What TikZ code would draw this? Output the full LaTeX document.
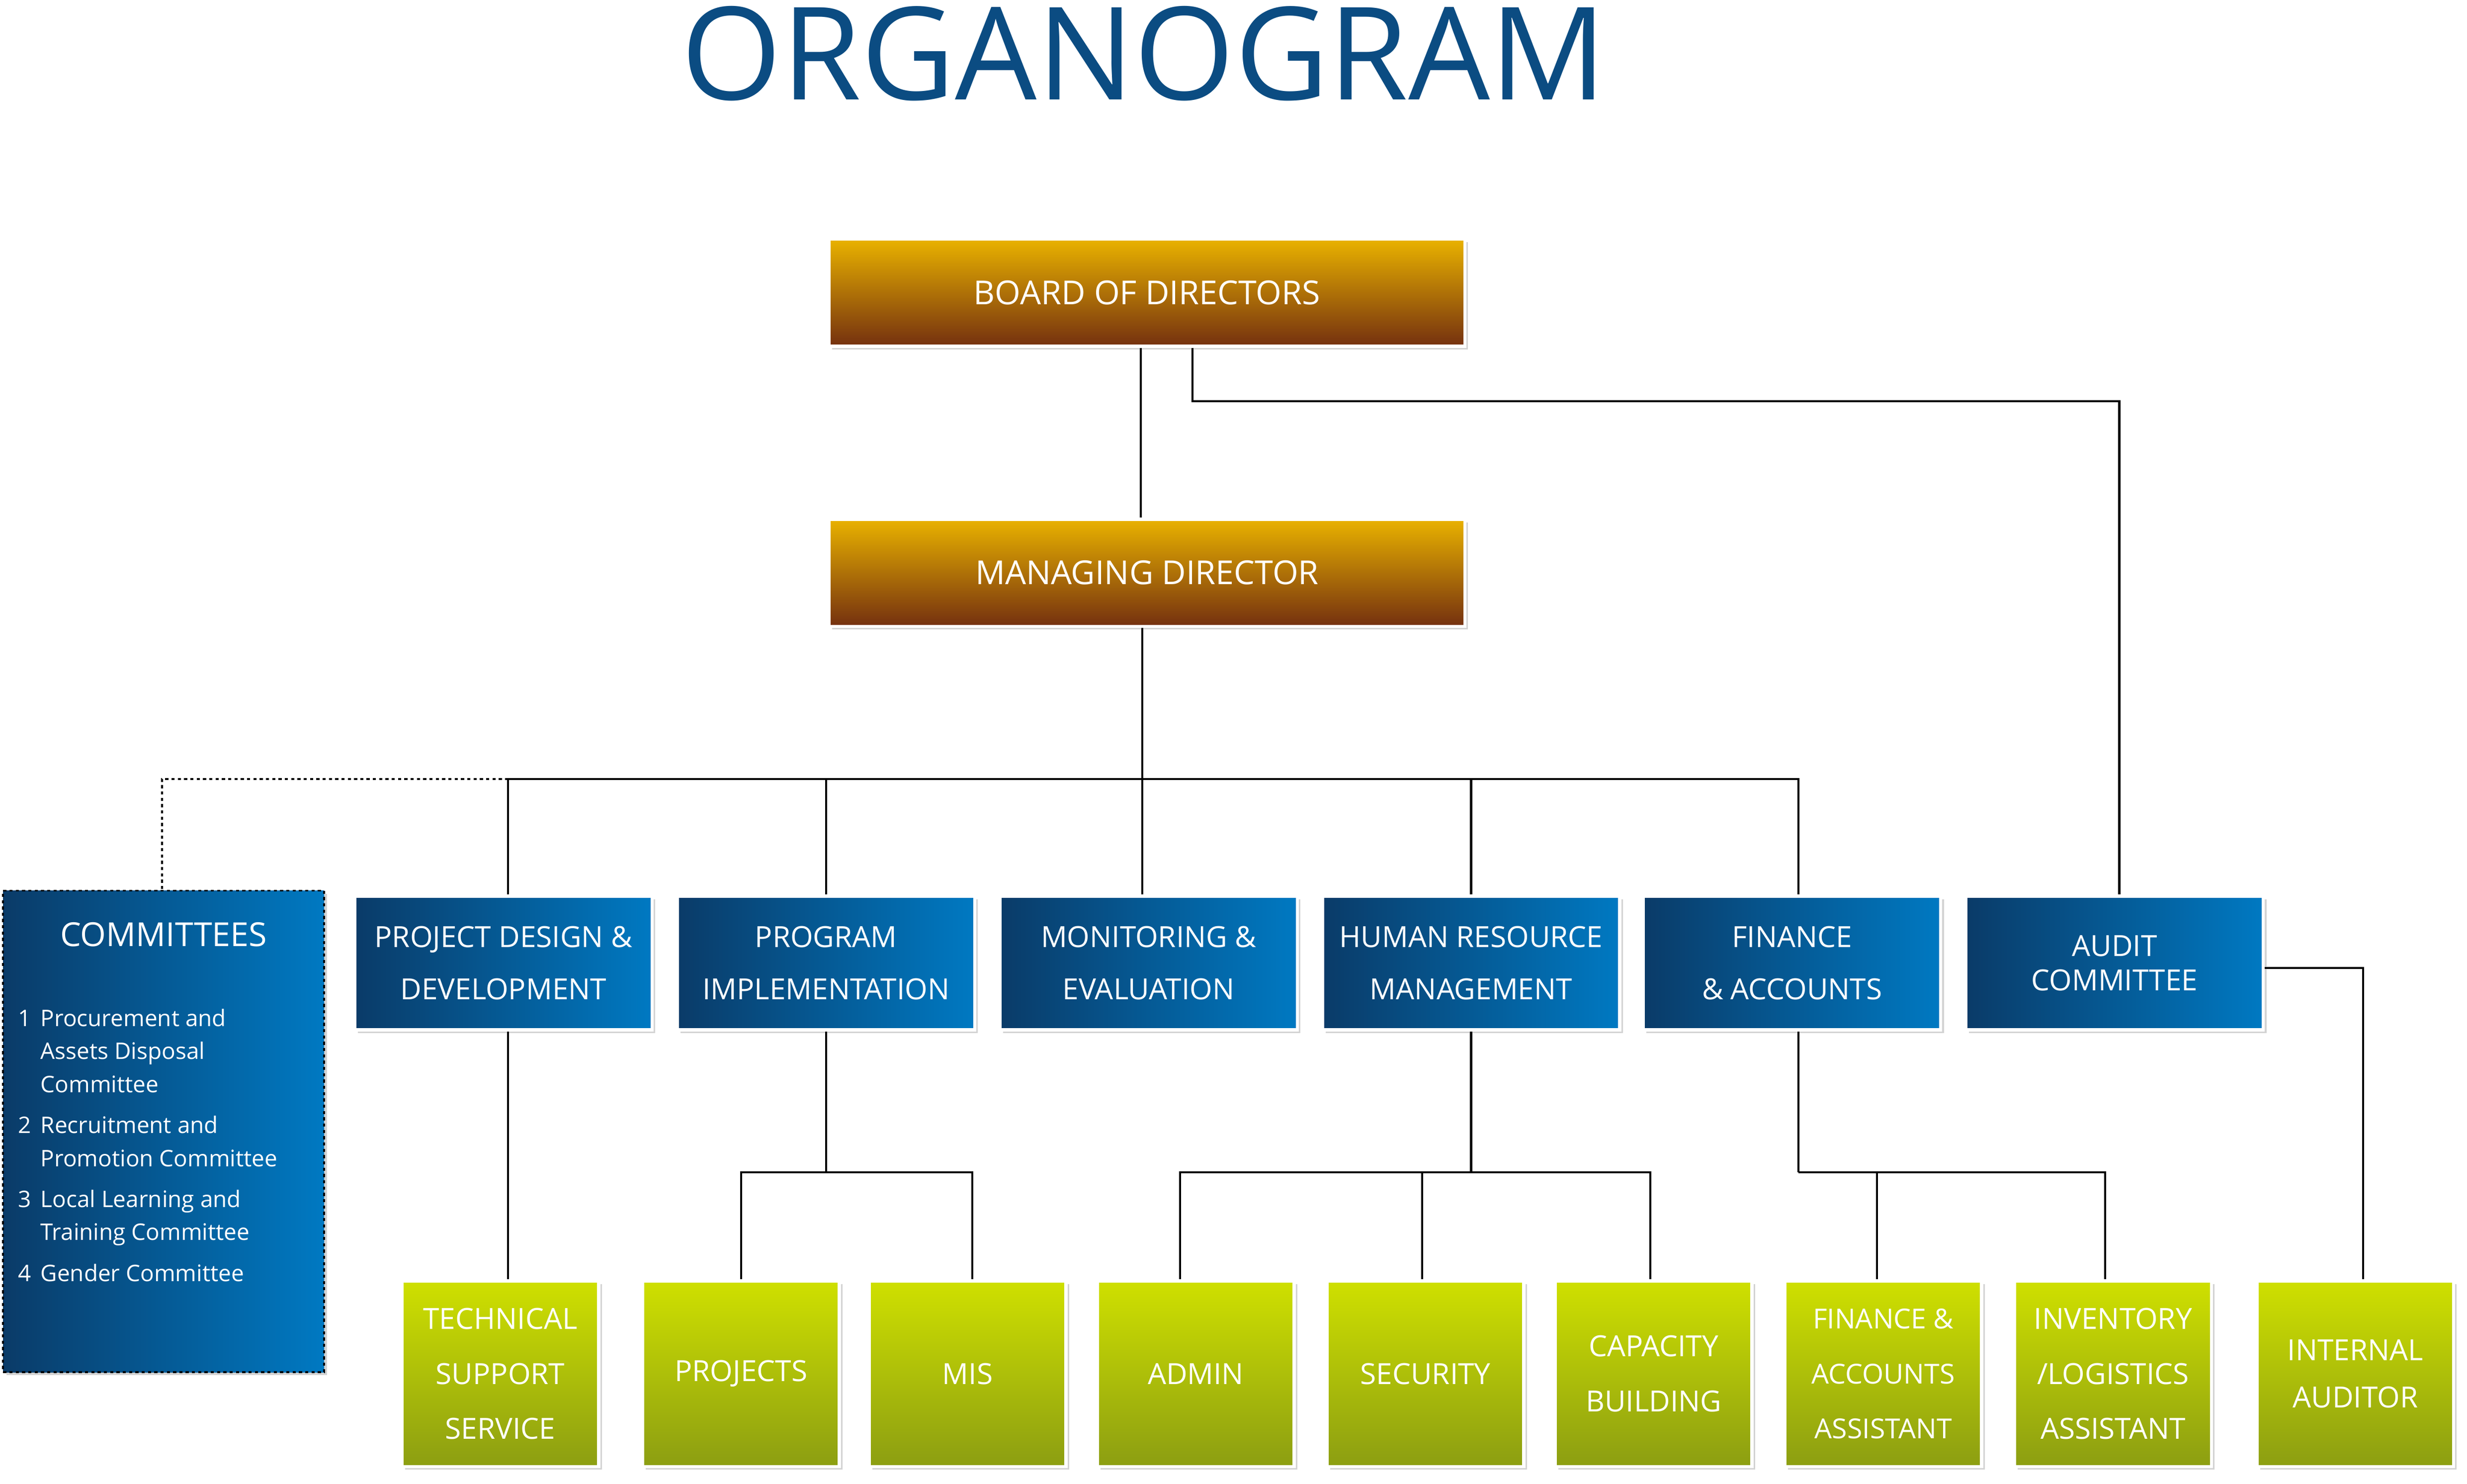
\documentclass[tikz,border=0pt]{standalone}
\usepackage{fontspec}
\setmainfont{Open Sans}
\usetikzlibrary{shadows,calc}
\definecolor{tblue}{HTML}{0B4C82}
\definecolor{oTop}{HTML}{E9B200}
\definecolor{oBot}{HTML}{74300F}
\definecolor{bL}{HTML}{0A3B68}
\definecolor{bR}{HTML}{0079C2}
\definecolor{gT}{HTML}{CFE000}
\definecolor{gB}{HTML}{8C9E12}
\begin{document}
\begin{tikzpicture}[x=1pt,y=-1pt,
 box/.style={draw=white,line width=2pt,drop shadow={opacity=0.35,shadow xshift=2pt,shadow yshift=-2pt},text=white,align=center,inner sep=0pt},
 orange/.style={box,top color=oTop,bottom color=oBot,minimum width=404pt,minimum height=68pt,font=\fontsize{21}{25}\selectfont},
 blue/.style={box,left color=bL,right color=bR,minimum width=189pt,minimum height=85pt,font=\fontsize{18.5}{33}\selectfont},
 green/.style={box,top color=gT,bottom color=gB,minimum width=125pt,minimum height=118pt,font=\fontsize{18.5}{35}\selectfont},
 ln/.style={line width=1.3pt,black}]
\useasboundingbox (0,0) rectangle (1568,943);
\node[text=tblue,font=\fontsize{82}{82}\selectfont] (title) at (727,34) {ORGANOGRAM};
\node[orange] (bod) at (729,186) {BOARD OF DIRECTORS};
\node[orange] (md) at (729,364) {MANAGING DIRECTOR};
\node[blue] (pd) at (320,612) {PROJECT DESIGN \&\\DEVELOPMENT};
\node[blue] (pi) at (525,612) {PROGRAM\\IMPLEMENTATION};
\node[blue] (me) at (730,612) {MONITORING \&\\EVALUATION};
\node[blue] (hr) at (935,612) {HUMAN RESOURCE\\MANAGEMENT};
\node[blue] (fa) at (1139,612) {FINANCE\\\& ACCOUNTS};
\node[blue,font=\fontsize{18.5}{22}\selectfont] (au) at (1344,612) {AUDIT\\COMMITTEE};
\node[box,left color=bL,right color=bR,draw=black,dash pattern=on 2pt off 2pt,line width=1.2pt,minimum width=204pt,minimum height=306pt] (com) at (104,719) {};
\node[text=white,font=\fontsize{21}{25}\selectfont] (comt) at (104,594) {COMMITTEES};
\node[text=white,anchor=north west,align=left,font=\fontsize{14.5}{21}\selectfont] (coml) at (8,634) {%
\begin{tabular}{@{}l@{\hspace{6pt}}l@{}}
1 & Procurement and\\ & Assets Disposal\\ & Committee\\[5pt]
2 & Recruitment and\\ & Promotion Committee\\[5pt]
3 & Local Learning and\\ & Training Committee\\[5pt]
4 & Gender Committee
\end{tabular}};
\node[green] (ts) at (318,873) {TECHNICAL\\SUPPORT\\SERVICE};
\node[green] (pr) at (471,873) {PROJECTS};
\node[green] (mis) at (615,873) {MIS};
\node[green] (ad) at (760,873) {ADMIN};
\node[green] (se) at (906,873) {SECURITY};
\node[green] (cb) at (1051,873) {CAPACITY\\BUILDING};
\node[green,font=\fontsize{17.5}{35}\selectfont] (faa) at (1197,873) {FINANCE \&\\ACCOUNTS\\ASSISTANT};
\node[green] (inv) at (1343,873) {INVENTORY\\/LOGISTICS\\ASSISTANT};
\node[green,font=\fontsize{18.5}{30}\selectfont] (ia) at (1497,873) {INTERNAL\\AUDITOR};
% connectors
\coordinate (j0) at (726,495);
\draw[ln] (bod.south -| 725,0) -- (md.north -| 725,0);
\draw[ln] (bod.south -| 758,0) |- (1347,255) -- (au.north -| 1347,0);
\draw[ln] (md.south -| 726,0) -- (j0);
\draw[ln] (pd.north -| 323,0) |- (j0) -| (fa.north -| 1143,0);
\draw[ln] (pi.north) -- (pi.north |- j0);
\draw[ln] (me.north -| 726,0) -- (j0);
\draw[ln] (hr.north) -- (hr.north |- j0);
\draw[ln,dash pattern=on 2pt off 2pt] (323,495) -| (com.north -| 103,0);
\draw[ln] (pd.south -| 323,0) -- (ts.north -| 323,0);
\coordinate (jpi) at (525,745);
\draw[ln] (pi.south) -- (jpi);
\draw[ln] (pr.north) |- (jpi) -| (mis.north -| 618,0);
\coordinate (jhr) at (935,745);
\draw[ln] (hr.south) -- (jhr);
\draw[ln] (ad.north -| 750,0) |- (jhr) -| (cb.north -| 1049,0);
\draw[ln] (se.north -| 904,0) -- (904,745);
\coordinate (jfa) at (1143,745);
\draw[ln] (fa.south -| 1143,0) -- (jfa);
\draw[ln] (faa.north -| 1193,0) |- (jfa);
\draw[ln] (jfa) -| (inv.north -| 1338,0);
\draw[ln] (au.east |- 0,615) -| (ia.north -| 1502,0);
\end{tikzpicture}
\end{document}
